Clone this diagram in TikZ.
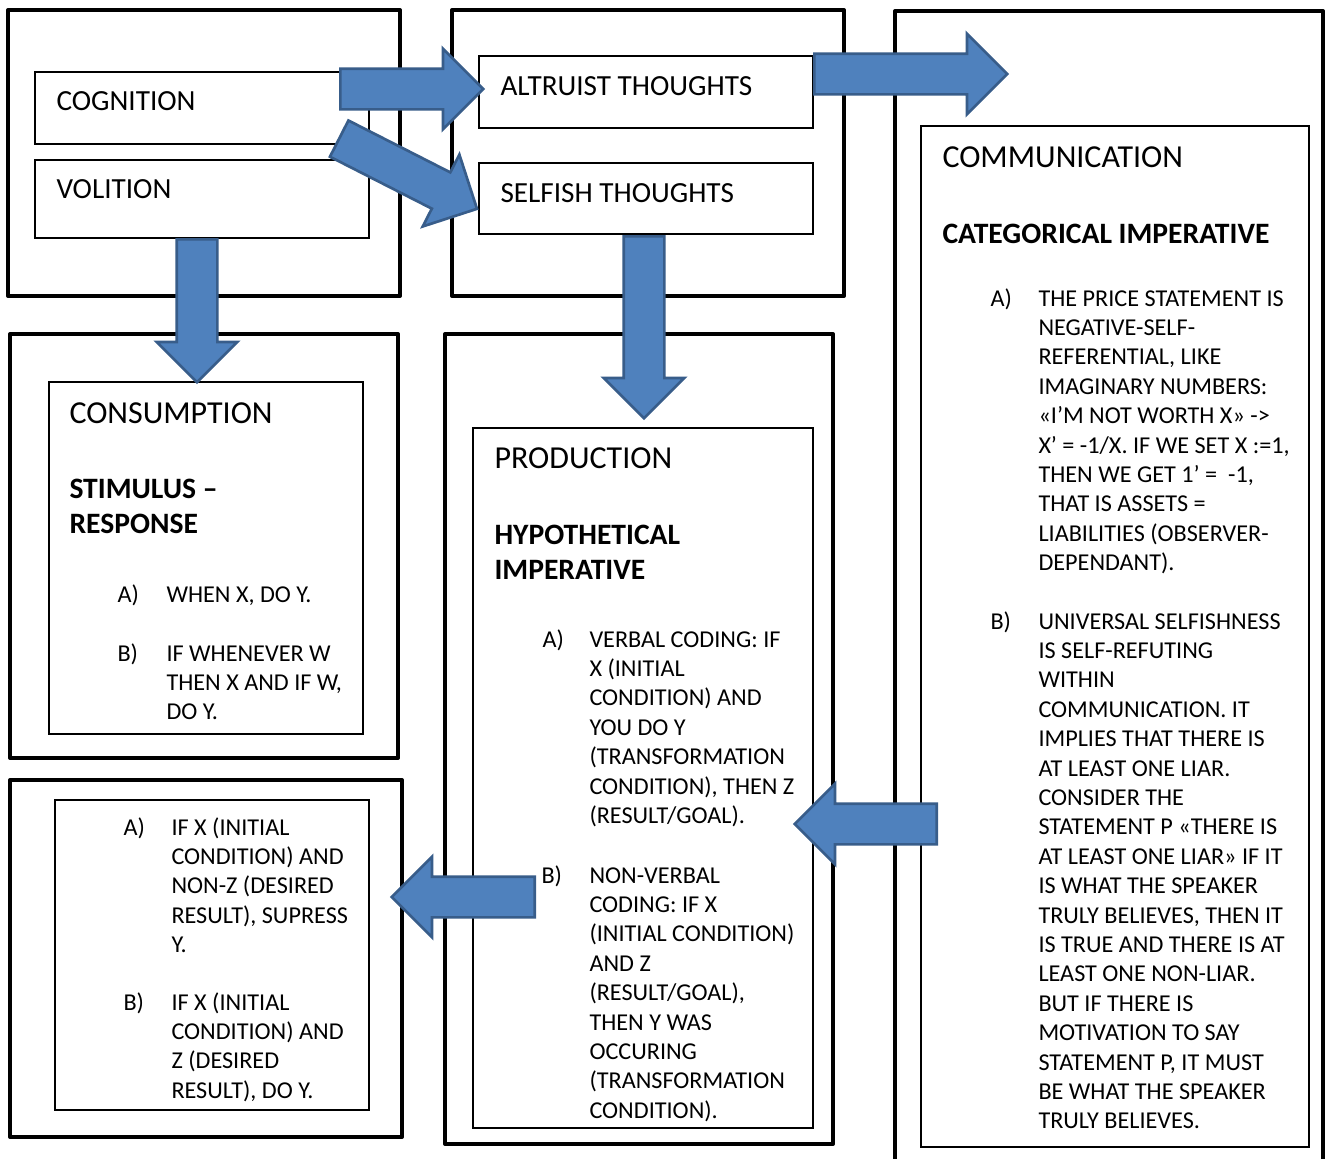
\documentclass[tikz,border=0pt]{standalone}
\usepackage{fontspec}
\setmainfont{Carlito}
\usetikzlibrary{shapes.arrows}

\definecolor{arrowfill}{RGB}{79,129,189}
\definecolor{arrowline}{RGB}{56,93,138}

\tikzset{every picture/.style={line width=0.75pt}}
\tikzset{
  outerbox/.style={line width=3pt, line join=round},
  innerbox/.style={line width=0.9pt},
  bluearrow/.style={single arrow, draw=arrowline, fill=arrowfill, line width=2pt,
    inner xsep=0pt, inner ysep=14.25pt, text height=0pt, text depth=0pt,
    minimum width=0pt, single arrow head extend=15pt, single arrow tip angle=90},
  boxlabel/.style={anchor=base west, inner sep=0pt, font=\fontsize{21.9}{26}\selectfont},
  titletext/.style={anchor=base west, inner sep=0pt, font=\fontsize{24}{28}\selectfont},
  headtext/.style={anchor=base west, inner sep=0pt, align=left, font=\fontsize{22.2}{26.25}\selectfont\bfseries},
  itemtext/.style={anchor=base west, inner sep=0pt, align=left, font=\fontsize{18.15}{22.05}\selectfont},
}

\begin{document}
\begin{tikzpicture}[x=0.75pt,y=0.75pt,yscale=-1,xscale=1]
\path[fill=white] (0,0) rectangle (1330,1158);
\useasboundingbox (0,0) rectangle (1330,1158);

%Shape: Rectangle [outer top left]
\draw [outerbox] (8,10) rectangle (400,296);
%Shape: Rectangle [outer top middle]
\draw [outerbox] (452,10) rectangle (844,296);
%Shape: Open Rectangle [outer right]
\draw [outerbox] (895,1160) -- (895,11) -- (1323,11) -- (1323,1160);
%Shape: Rectangle [outer consumption]
\draw [outerbox] (10,334) rectangle (398,758);
%Shape: Rectangle [outer production]
\draw [outerbox] (445,334) rectangle (833,1144);
%Shape: Rectangle [outer bottom left]
\draw [outerbox] (10,780) rectangle (402,1137);

%Shape: Rectangle [inner boxes]
\draw [innerbox] (35,72) rectangle (369,144);
\draw [innerbox] (35,160) rectangle (369,238);
\draw [innerbox] (479,56) rectangle (813,128);
\draw [innerbox] (479,163) rectangle (813,234);
\draw [innerbox] (921,126) rectangle (1309,1147);
\draw [innerbox] (49,382) rectangle (363,734);
\draw [innerbox] (473,428) rectangle (813,1128);
\draw [innerbox] (55,800) rectangle (369,1110);

% Text Node (multi-line nodes sit on their last baseline)
\node [boxlabel] (cognition) at (56,110) {COGNITION};
% Text Node
\node [boxlabel] (volition) at (56,198) {VOLITION};
% Text Node
\node [boxlabel] (altruist) at (500,95) {ALTRUIST THOUGHTS};
% Text Node
\node [boxlabel] (selfish) at (500,202) {SELFISH THOUGHTS};

% Text Node
\node [titletext] (consumption) at (69,423) {CONSUMPTION};
\node [headtext] (stimulus) at (69,533) {STIMULUS –\\RESPONSE};
\node [itemtext] (consA) at (117,602) {A)};
\node [itemtext] (consAtext) at (166,602) {WHEN X, DO Y.};
\node [itemtext] (consB) at (117,661) {B)};
\node [itemtext] (consBtext) at (166,719.8) {IF WHENEVER W\\THEN X AND IF W,\\DO Y.};

% Text Node
\node [titletext] (production) at (494,468) {PRODUCTION};
\node [headtext] (hypothetical) at (494,579) {HYPOTHETICAL\\IMPERATIVE};
\node [itemtext] (prodA) at (542,647) {A)};
\node [itemtext] (prodAtext) at (589,823.4) {VERBAL CODING: IF\\X (INITIAL\\CONDITION) AND\\YOU DO Y\\(TRANSFORMATION\\CONDITION), THEN Z\\(RESULT/GOAL).};
\node [itemtext] (prodB) at (541,883) {B)};
\node [itemtext] (prodBtext) at (589,1118.2) {NON-VERBAL\\CODING: IF X\\(INITIAL CONDITION)\\AND Z\\(RESULT/GOAL),\\THEN Y WAS\\OCCURING\\(TRANSFORMATION\\CONDITION).};

% Text Node
\node [titletext] (communication) at (942,167) {COMMUNICATION};
\node [headtext] (categorical) at (942,243) {CATEGORICAL IMPERATIVE};
\node [itemtext] (commA) at (990,306) {A)};
\node [itemtext] (commAtext) at (1038,570.6) {THE PRICE STATEMENT IS\\NEGATIVE-SELF-\\REFERENTIAL, LIKE\\IMAGINARY NUMBERS:\\«I’M NOT WORTH X» ->\\X’ = -1/X. IF WE SET X :=1,\\THEN WE GET 1’ = \ -1,\\THAT IS ASSETS =\\LIABILITIES (OBSERVER-\\DEPENDANT).};
\node [itemtext] (commB) at (990,629) {B)};
\node [itemtext] (commBtext) at (1038,1128.8) {UNIVERSAL SELFISHNESS\\IS SELF-REFUTING\\WITHIN\\COMMUNICATION. IT\\IMPLIES THAT THERE IS\\AT LEAST ONE LIAR.\\CONSIDER THE\\STATEMENT P «THERE IS\\AT LEAST ONE LIAR» IF IT\\IS WHAT THE SPEAKER\\TRULY BELIEVES, THEN IT\\IS TRUE AND THERE IS AT\\LEAST ONE NON-LIAR.\\BUT IF THERE IS\\MOTIVATION TO SAY\\STATEMENT P, IT MUST\\BE WHAT THE SPEAKER\\TRULY BELIEVES.};

% Text Node
\node [itemtext] (suppA) at (123,835) {A)};
\node [itemtext] (suppAtext) at (171,952.6) {IF X (INITIAL\\CONDITION) AND\\NON-Z (DESIRED\\RESULT), SUPRESS\\Y.};
\node [itemtext] (suppB) at (123,1010) {B)};
\node [itemtext] (suppBtext) at (171,1098.2) {IF X (INITIAL\\CONDITION) AND\\Z (DESIRED\\RESULT), DO Y.};

%Shape: Right Arrow
\node [bluearrow, minimum height=107.25pt, anchor=tail] (toAltruist) at (339,89) {};
%Shape: Right Arrow (tilted)
\node [bluearrow, minimum height=116pt, anchor=tail, rotate=-27] (toSelfish) at (338,138) {};
%Shape: Right Arrow
\node [bluearrow, minimum height=144.75pt, anchor=tail] (toCommunication) at (813,74) {};
%Shape: Down Arrow
\node [bluearrow, minimum height=107.25pt, anchor=tail, rotate=-90] (toConsumption) at (197,238) {};
%Shape: Down Arrow
\node [bluearrow, minimum height=136.5pt, anchor=tail, rotate=-90] (toProduction) at (644,235) {};
%Shape: Left Arrow
\node [bluearrow, minimum height=106.5pt, anchor=tail, rotate=180] (fromCommunication) at (938,824) {};
%Shape: Left Arrow
\node [bluearrow, minimum height=107.25pt, anchor=tail, rotate=180] (toSuppress) at (536,897) {};

\end{tikzpicture}
\end{document}
